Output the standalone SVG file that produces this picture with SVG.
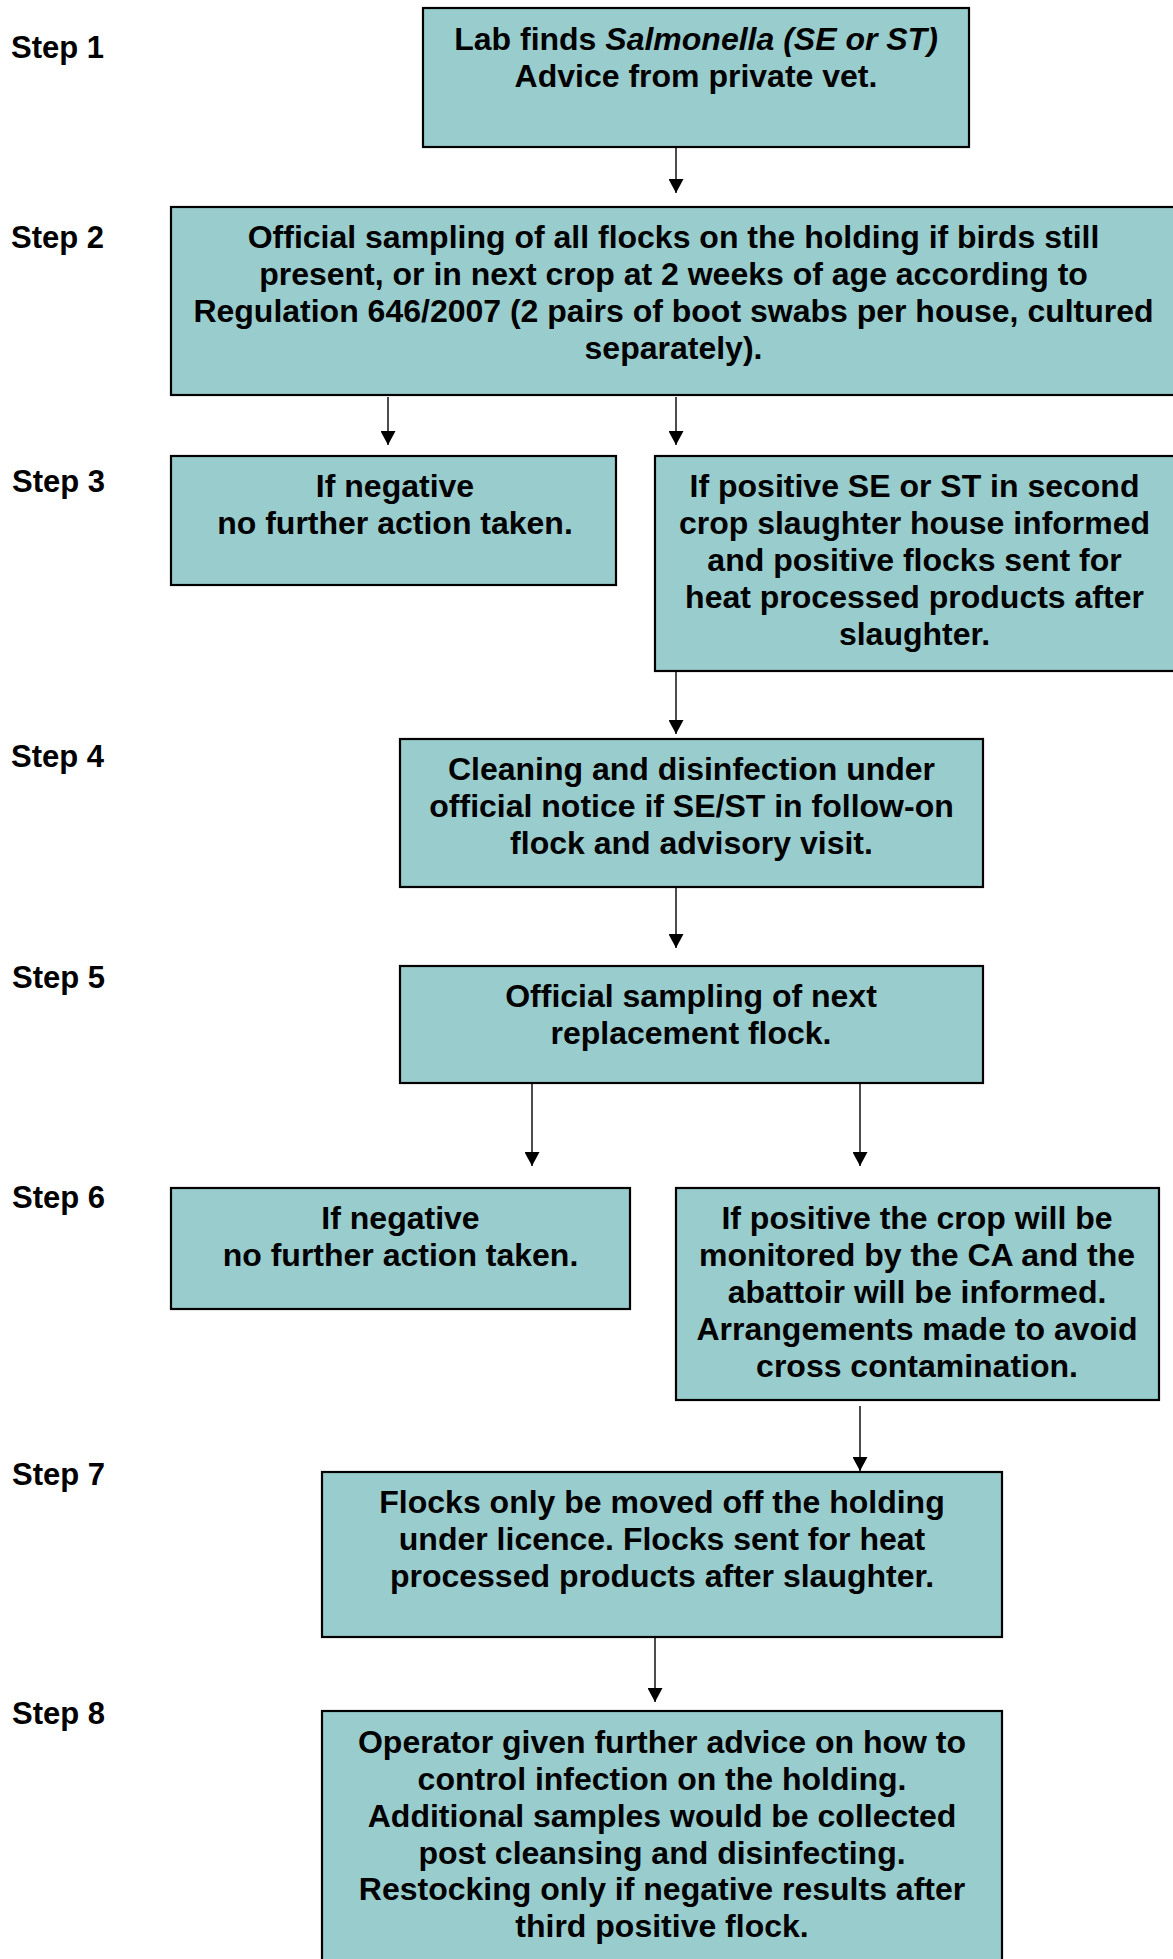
<svg xmlns="http://www.w3.org/2000/svg" width="1173" height="1959" viewBox="0 0 1173 1959">
<style>
.box{fill:#99CCCC;stroke:#000;stroke-width:2.2}
.t{font-family:"Liberation Sans",Arial,sans-serif;font-weight:bold;font-size:32px;fill:#000;text-anchor:middle}
.step{font-family:"Liberation Sans",Arial,sans-serif;font-weight:bold;font-size:31px;fill:#000}
.con{stroke:#000;stroke-width:1.4;fill:none;marker-end:url(#ah)}
</style>
<defs>
<marker id="ah" markerUnits="userSpaceOnUse" markerWidth="15" markerHeight="15" refX="14" refY="7.5" orient="auto">
<path d="M0,0 L14,7.5 L0,15 z" fill="#000"/>
</marker>
</defs>
<rect width="1173" height="1959" fill="#fff"/>
<g id="steps">
<text class="step" x="11" y="58">Step 1</text>
<text class="step" x="11" y="248">Step 2</text>
<text class="step" x="12" y="492">Step 3</text>
<text class="step" x="11" y="767">Step 4</text>
<text class="step" x="12" y="988">Step 5</text>
<text class="step" x="12" y="1208">Step 6</text>
<text class="step" x="12" y="1485">Step 7</text>
<text class="step" x="12" y="1724">Step 8</text>
</g>
<g id="connectors">
<line class="con" x1="676" y1="148" x2="676" y2="193"/>
<line class="con" x1="388" y1="397" x2="388" y2="445"/>
<line class="con" x1="676" y1="397" x2="676" y2="445"/>
<line class="con" x1="676" y1="672" x2="676" y2="734"/>
<line class="con" x1="676" y1="888" x2="676" y2="948"/>
<line class="con" x1="532" y1="1084" x2="532" y2="1166"/>
<line class="con" x1="860" y1="1084" x2="860" y2="1166"/>
<line class="con" x1="860" y1="1406" x2="860" y2="1471"/>
<line class="con" x1="655" y1="1638" x2="655" y2="1702"/>
</g>
<g id="n1">
<rect class="box" x="423" y="8" width="546" height="139"/>
<text class="t"><tspan x="696" y="49.5">Lab finds <tspan font-style="italic">Salmonella (SE or ST)</tspan></tspan><tspan x="696" y="86.5">Advice from private vet.</tspan></text>
</g>
<g id="n2">
<rect class="box" x="171" y="207" width="1005" height="188"/>
<text class="t"><tspan x="673.5" y="248">Official sampling of all flocks on the holding if birds still</tspan><tspan x="673.5" y="285">present, or in next crop at 2 weeks of age according to</tspan><tspan x="673.5" y="322">Regulation 646/2007 (2 pairs of boot swabs per house, cultured</tspan><tspan x="673.5" y="359">separately).</tspan></text>
</g>
<g id="n3a">
<rect class="box" x="171" y="456" width="445" height="129"/>
<text class="t"><tspan x="395" y="497">If negative</tspan><tspan x="395" y="534">no further action taken.</tspan></text>
</g>
<g id="n3b">
<rect class="box" x="655" y="456" width="521" height="215"/>
<text class="t"><tspan x="914.5" y="497">If positive SE or ST in second</tspan><tspan x="914.5" y="534">crop slaughter house informed</tspan><tspan x="914.5" y="571">and positive flocks sent for</tspan><tspan x="914.5" y="608">heat processed products after</tspan><tspan x="914.5" y="645">slaughter.</tspan></text>
</g>
<g id="n4">
<rect class="box" x="400" y="739" width="583" height="148"/>
<text class="t"><tspan x="691.5" y="780">Cleaning and disinfection under</tspan><tspan x="691.5" y="817">official notice if SE/ST in follow-on</tspan><tspan x="691.5" y="854">flock and advisory visit.</tspan></text>
</g>
<g id="n5">
<rect class="box" x="400" y="966" width="583" height="117"/>
<text class="t"><tspan x="691" y="1007">Official sampling of next</tspan><tspan x="691" y="1044">replacement flock.</tspan></text>
</g>
<g id="n6a">
<rect class="box" x="171" y="1188" width="459" height="121"/>
<text class="t"><tspan x="400.5" y="1229">If negative</tspan><tspan x="400.5" y="1266">no further action taken.</tspan></text>
</g>
<g id="n6b">
<rect class="box" x="676" y="1188" width="483" height="212"/>
<text class="t"><tspan x="917" y="1229">If positive the crop will be</tspan><tspan x="917" y="1266">monitored by the CA and the</tspan><tspan x="917" y="1303">abattoir will be informed.</tspan><tspan x="917" y="1340">Arrangements made to avoid</tspan><tspan x="917" y="1377">cross contamination.</tspan></text>
</g>
<g id="n7">
<rect class="box" x="322" y="1472" width="680" height="165"/>
<text class="t"><tspan x="662" y="1513">Flocks only be moved off the holding</tspan><tspan x="662" y="1550">under licence. Flocks sent for heat</tspan><tspan x="662" y="1587">processed products after slaughter.</tspan></text>
</g>
<g id="n8">
<rect class="box" x="322" y="1711" width="680" height="262"/>
<text class="t"><tspan x="662" y="1753">Operator given further advice on how to</tspan><tspan x="662" y="1790">control infection on the holding.</tspan><tspan x="662" y="1827">Additional samples would be collected</tspan><tspan x="662" y="1864">post cleansing and disinfecting.</tspan><tspan x="662" y="1900">Restocking only if negative results after</tspan><tspan x="662" y="1937">third positive flock.</tspan></text>
</g>
</svg>
